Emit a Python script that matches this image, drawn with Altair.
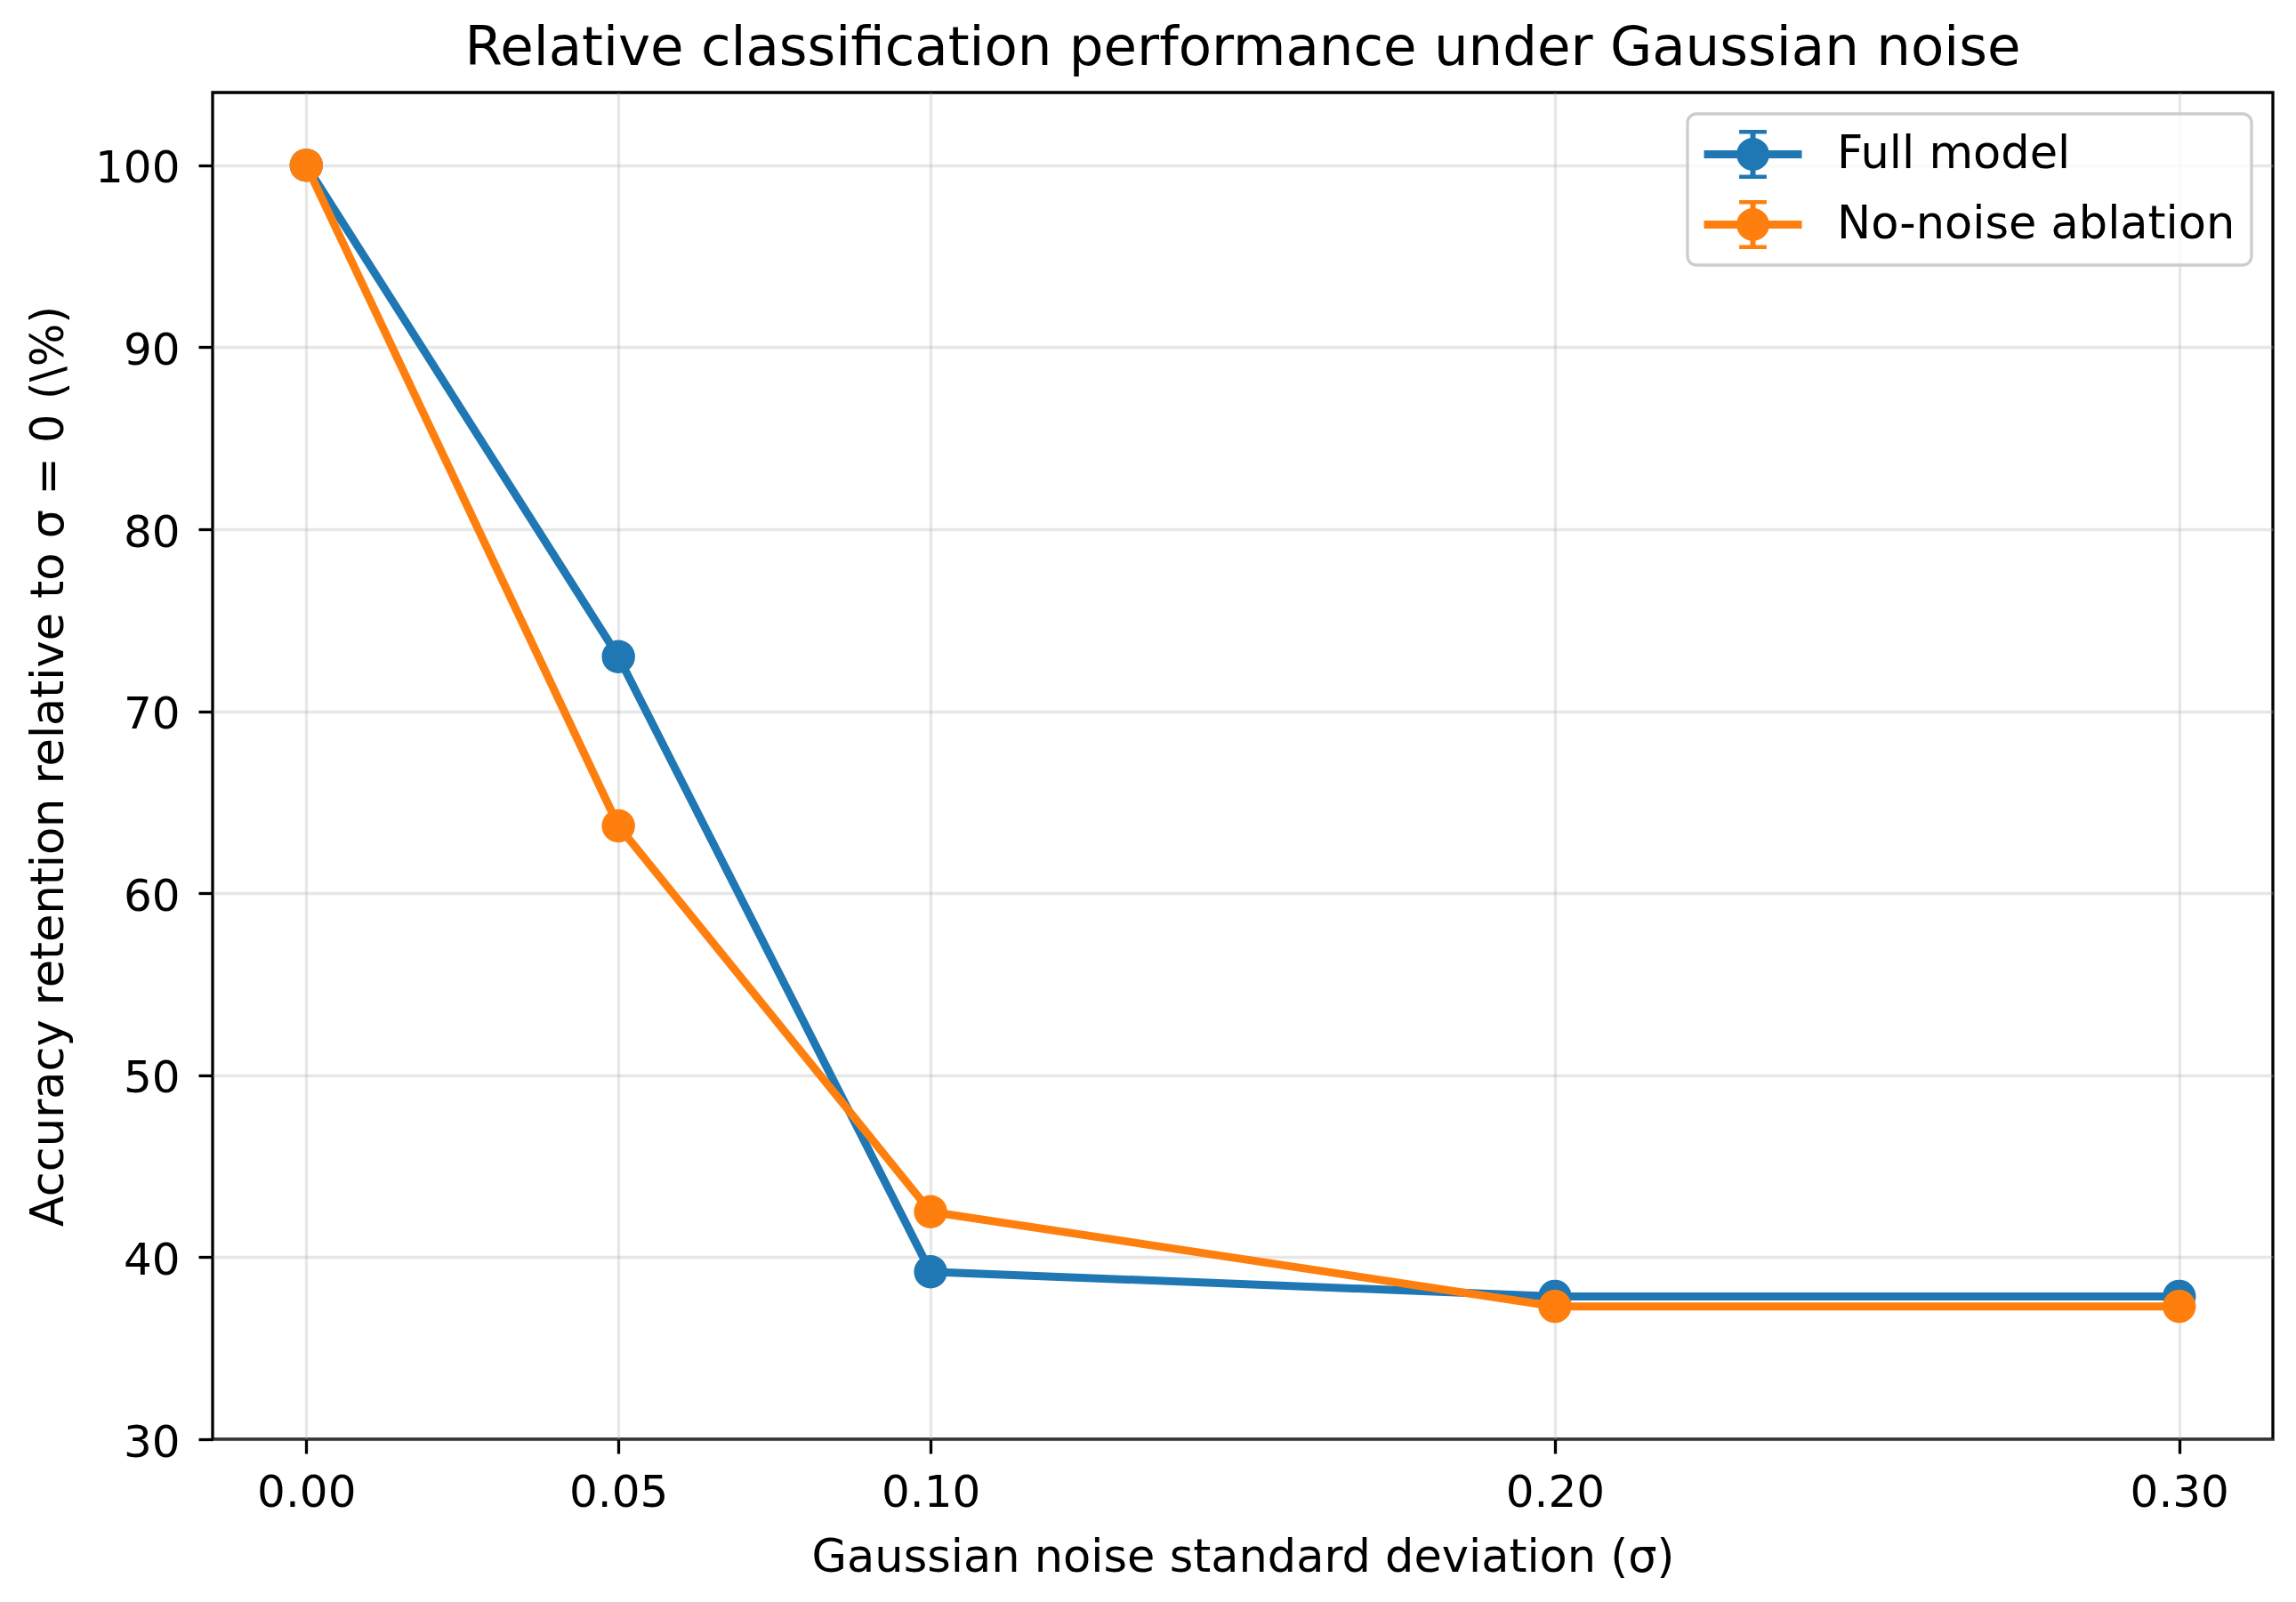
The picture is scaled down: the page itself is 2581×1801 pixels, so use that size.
import altair as alt
import pandas as pd

# ---- data ----
sigma = [0.00, 0.05, 0.10, 0.20, 0.30]
full_model = [100.0, 73.0, 39.2, 37.85, 37.85]
no_noise = [100.0, 63.7, 42.5, 37.3, 37.3]
series = ["Full model", "No-noise ablation"]
colors = ["#1f77b4", "#ff7f0e"]
x_ticks = [0.00, 0.05, 0.10, 0.20, 0.30]
y_ticks = [30, 40, 50, 60, 70, 80, 90, 100]

rows = []
for name, vals in zip(series, [full_model, no_noise]):
    for s, v in zip(sigma, vals):
        rows.append({"sigma": s, "acc": v, "model": name})
df = pd.DataFrame(rows)

FONT = "DejaVu Sans"

# legend handle: line + marker + error bar (all filled shapes, clockwise)
HANDLE = (
    "M-2,-0.16H2V0.16H-2Z "
    "M-0.11,-1H0.11V1H-0.11Z "
    "M-0.56,-1H0.56V-0.84H-0.56Z "
    "M-0.56,0.84H0.56V1H-0.56Z "
    "M-0.67,0A0.67,0.67 0 1,1 0.67,0A0.67,0.67 0 1,1 -0.67,0Z"
)

x = alt.X(
    "sigma:Q",
    scale=alt.Scale(domain=[-0.015, 0.315], nice=False, zero=False),
    axis=alt.Axis(
        values=x_ticks, format=".2f",
        title="Gaussian noise standard deviation (σ)",
        domain=False, grid=True, gridColor="#b0b0b0", gridOpacity=0.3, gridWidth=3.3,
        ticks=True, tickSize=16, tickWidth=3.3, tickColor="black",
        labelFont=FONT, labelFontSize=50, labelColor="black", labelPadding=19,
        titleFont=FONT, titleFontSize=51, titleFontWeight="normal", titleColor="black",
        titleBaseline="top", titleY=108,
    ),
)
y = alt.Y(
    "acc:Q",
    scale=alt.Scale(domain=[30, 104], nice=False, zero=False),
    axis=alt.Axis(
        values=y_ticks,
        title="Accuracy retention relative to σ = 0 (\\%)",
        domain=False, grid=True, gridColor="#b0b0b0", gridOpacity=0.3, gridWidth=3.3,
        ticks=True, tickSize=16, tickWidth=3.3, tickColor="black",
        labelFont=FONT, labelFontSize=50, labelColor="black", labelPadding=21,
        labelOffset=4,
        titleFont=FONT, titleFontSize=51, titleFontWeight="normal", titleColor="black",
        titleBaseline="bottom", titleX=-158,
    ),
)
color = alt.Color(
    "model:N",
    title=None,
    scale=alt.Scale(domain=series, range=colors),
    legend=alt.Legend(
        orient="top-right", offset=24, padding=18,
        fillColor="rgba(255,255,255,0.8)", strokeColor="#cccccc",
        cornerRadius=10,
        labelFont=FONT, labelFontSize=51, labelColor="black", labelLimit=2000,
        symbolType=HANDLE, symbolSize=3025, symbolStrokeWidth=0, symbolOpacity=1,
        symbolOffset=28, labelOffset=67, rowPadding=24,
    ),
)

# first layer: empty circle layer so the shared legend takes filled symbols
layers = [
    alt.Chart(df).transform_filter("false").mark_circle(size=1400, opacity=1)
    .encode(x=x, y=y, color=color)
]
for name in series:
    base = alt.Chart(df).transform_filter(alt.datum.model == name)
    layers.append(base.mark_line(strokeWidth=9).encode(x=x, y=y, color=color))
    layers.append(base.mark_circle(size=1400, opacity=1).encode(x=x, y=y, color=color))

chart = (
    alt.layer(*layers)
    .properties(
        width=2316, height=1514,
        autosize=alt.AutoSizeParams(type="none"),
        padding={"left": 231, "top": 96, "right": 18, "bottom": 175},
        background="white",
        title=alt.TitleParams(
            "Relative classification performance under Gaussian noise",
            font=FONT, fontSize=61, fontWeight="normal", color="black",
            anchor="middle", baseline="alphabetic", offset=-30,
        ),
    )
    .configure_view(stroke="black", strokeWidth=3.3)
    .configure_legend(strokeWidth=3.3)
)

chart.save("out.html", embed_options={"renderer": "svg", "actions": False})
